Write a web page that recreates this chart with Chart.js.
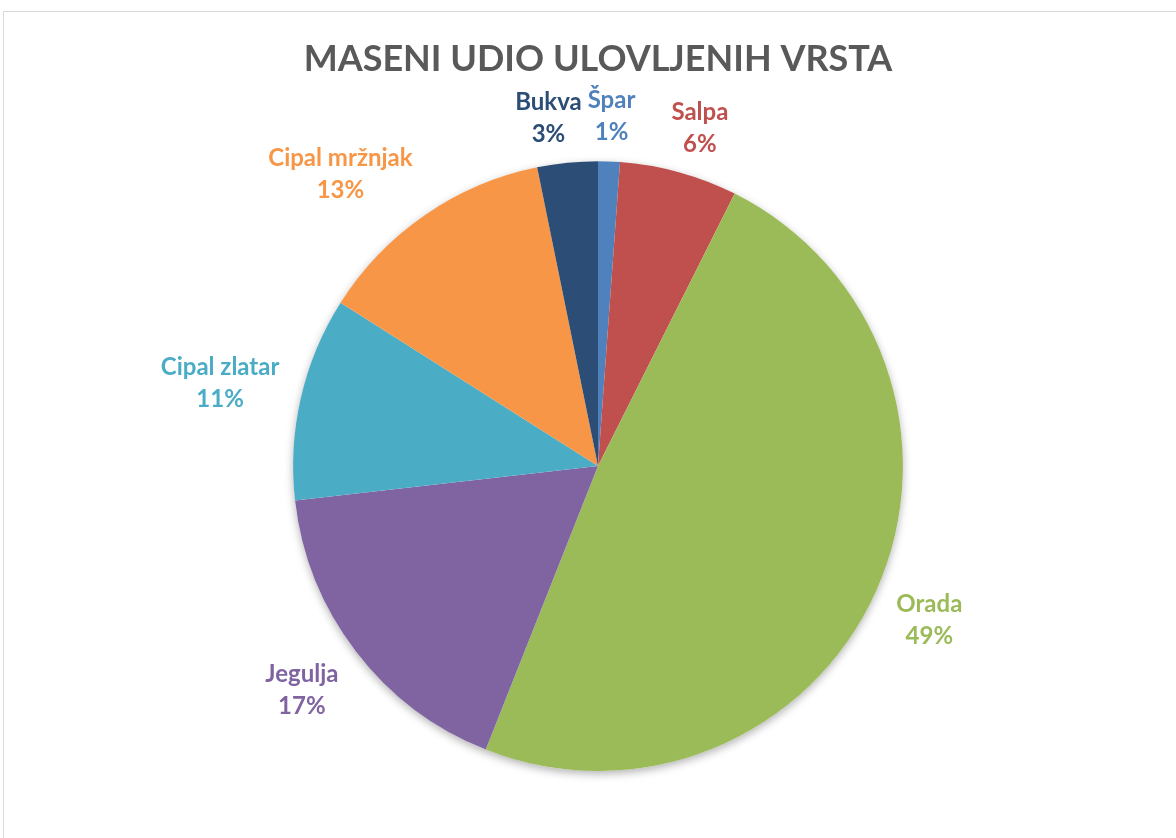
<!DOCTYPE html>
<html>
<head>
<meta charset="utf-8">
<script src="https://cdn.jsdelivr.net/npm/chart.js@4/dist/chart.umd.min.js"></script>
<style>
    html, body { margin: 0; padding: 0; background: #fff; }
    #wrap { position: relative; width: 1176px; height: 838px; }
</style>
</head>
<body>
<div id="wrap"><canvas id="pieChart"></canvas></div>
<script>
// Chart data
const chartTitle = 'MASENI UDIO ULOVLJENIH VRSTA';
const species = ['Špar', 'Salpa', 'Orada', 'Jegulja', 'Cipal zlatar', 'Cipal mržnjak', 'Bukva'];
const shares = [1.15, 6.25, 48.6, 17.2, 10.8, 12.8, 3.2];
const sliceColors = ['#4F81BD', '#C0504D', '#9BBB59', '#8064A2', '#4BACC6', '#F79646', '#2C4D75'];

const labelFont = 'bold 24px Lato, "Open Sans", sans-serif';

// Frame lines like the spreadsheet chart border
const framePlugin = {
    id: 'frame',
    beforeDraw(chart) {
        const ctx = chart.ctx;
        ctx.save();
        ctx.strokeStyle = '#d9d9d9';
        ctx.lineWidth = 1;
        ctx.beginPath();
        ctx.moveTo(3.5, chart.height);
        ctx.lineTo(3.5, 11.5);
        ctx.lineTo(chart.width, 11.5);
        ctx.stroke();
        ctx.restore();
    }
};

// Soft shadow under the whole pie
const shadowPlugin = {
    id: 'pieShadow',
    beforeDatasetsDraw(chart) {
        const arc = chart.getDatasetMeta(0).data[0];
        if (!arc) return;
        const ctx = chart.ctx;
        ctx.save();
        ctx.shadowColor = 'rgba(0,0,0,0.3)';
        ctx.shadowBlur = 9;
        ctx.shadowOffsetY = 3;
        ctx.fillStyle = '#ffffff';
        ctx.beginPath();
        ctx.arc(arc.x, arc.y, arc.outerRadius, 0, Math.PI * 2);
        ctx.fill();
        ctx.restore();
    }
};

// Outside labels: name + percent, coloured like the slice
function clampDir(t) {
    return Math.max(-1, Math.min(1, t * 2));
}

const outsideLabels = {
    id: 'outsideLabels',
    afterDatasetsDraw(chart) {
        const ctx = chart.ctx;
        const meta = chart.getDatasetMeta(0);
        const data = chart.data.datasets[0].data;
        const total = data.reduce((a, b) => a + b, 0);
        ctx.save();
        ctx.font = labelFont;
        ctx.textAlign = 'center';
        ctx.textBaseline = 'middle';

        // Work out where each label box goes
        const boxes = meta.data.map((arc, i) => {
            const mid = (arc.startAngle + arc.endAngle) / 2;
            const dx = Math.cos(mid);
            const dy = Math.sin(mid);
            const name = chart.data.labels[i];
            const pct = Math.round(data[i] / total * 100) + '%';
            const w = Math.max(ctx.measureText(name).width, ctx.measureText(pct).width);
            const h = 48;
            const r = arc.outerRadius + 22;
            return {
                name: name,
                pct: pct,
                w: w,
                h: h,
                color: sliceColors[i],
                cx: arc.x + dx * r + clampDir(dx) * w / 2,
                cy: arc.y + dy * r + clampDir(dy) * h / 2
            };
        });

        // Push overlapping labels apart sideways
        for (let a = 0; a < boxes.length; a++) {
            for (let b = a + 1; b < boxes.length; b++) {
                const p = boxes[a], q = boxes[b];
                const overlapY = (p.h + q.h) / 2 - Math.abs(p.cy - q.cy);
                const overlapX = (p.w + q.w) / 2 + 6 - Math.abs(p.cx - q.cx);
                if (overlapY > 0 && overlapX > 0) {
                    const left = p.cx < q.cx ? p : q;
                    left.cx -= overlapX;
                }
            }
        }

        boxes.forEach(box => {
            ctx.fillStyle = box.color;
            ctx.fillText(box.name, box.cx, box.cy - 15);
            ctx.fillText(box.pct, box.cx, box.cy + 17);
        });
        ctx.restore();
    }
};

new Chart(document.getElementById('pieChart'), {
    type: 'pie',
    data: {
        labels: species,
        datasets: [{
            data: shares,
            backgroundColor: sliceColors,
            borderWidth: 0
        }]
    },
    options: {
        responsive: true,
        maintainAspectRatio: false,
        animation: false,
        layout: {
            padding: { top: 0, bottom: 67, left: 100, right: 80 }
        },
        plugins: {
            legend: { display: false },
            tooltip: { enabled: false },
            title: {
                display: true,
                text: chartTitle,
                color: '#595959',
                font: { family: 'Lato, "Open Sans", sans-serif', size: 36, weight: 'bold' },
                padding: { top: 38, bottom: 80 }
            }
        }
    },
    plugins: [framePlugin, shadowPlugin, outsideLabels]
});
</script>
</body>
</html>
